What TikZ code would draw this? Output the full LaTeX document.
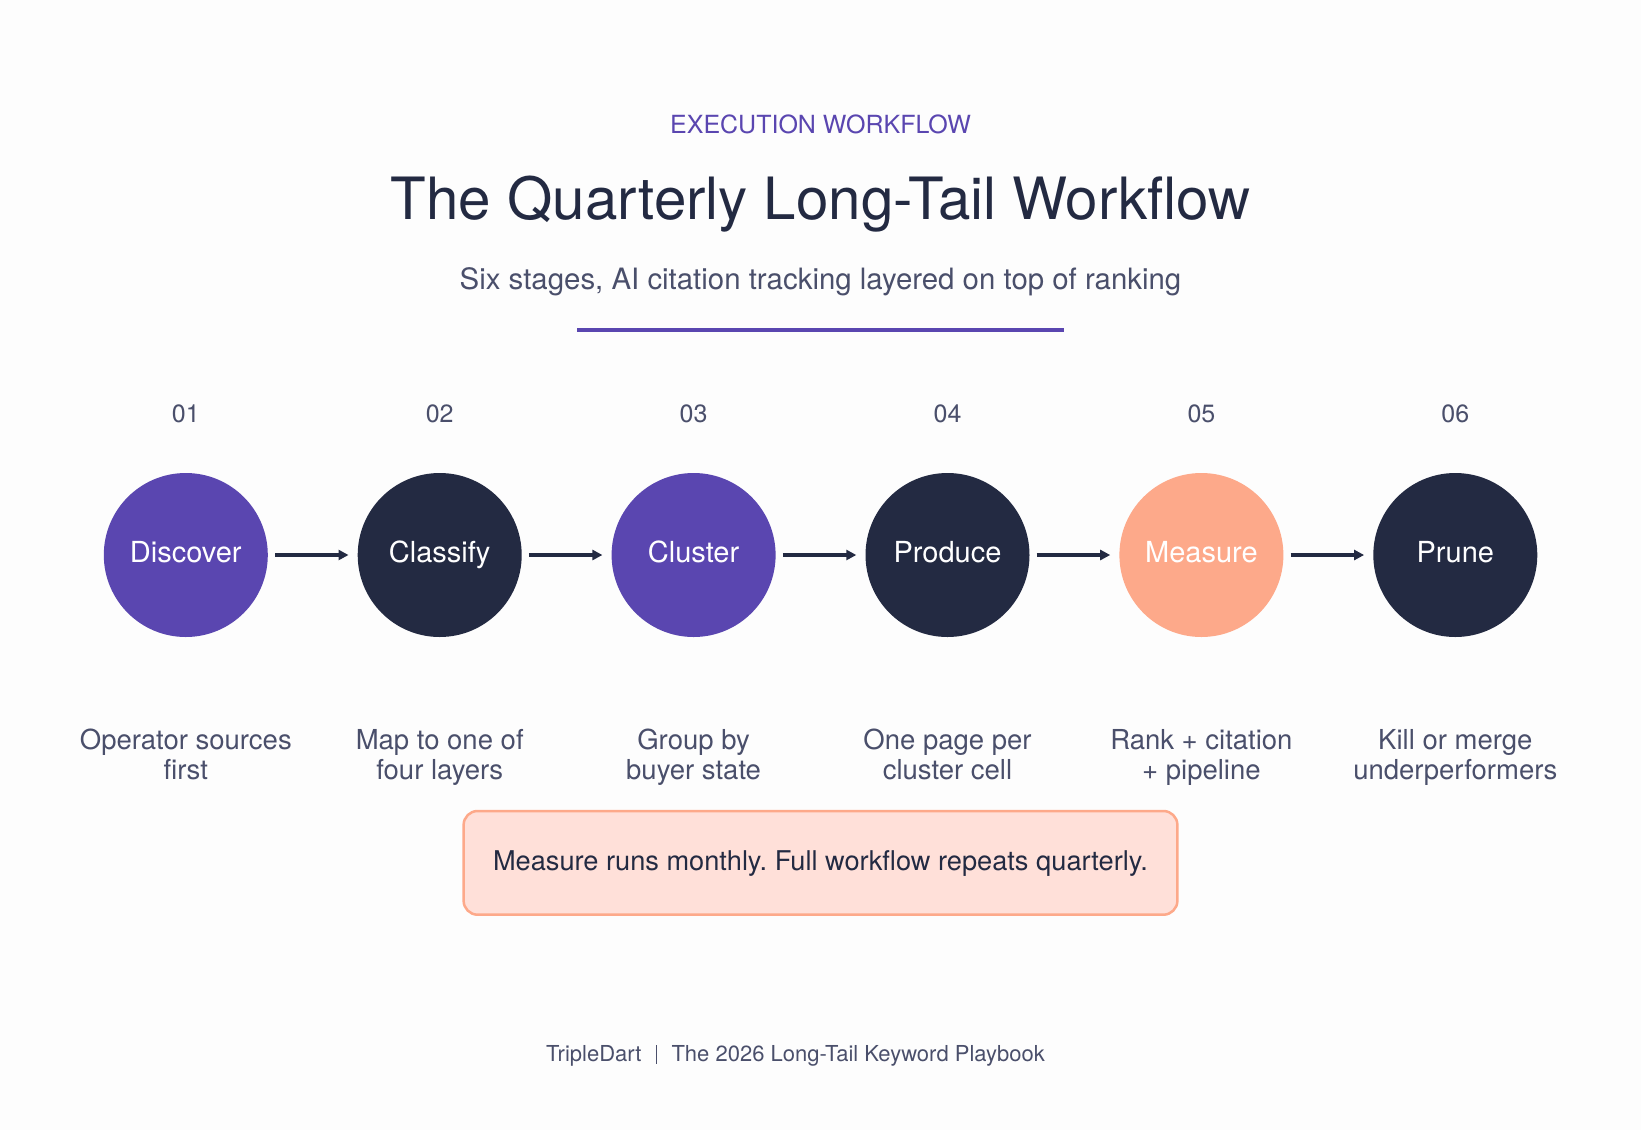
\documentclass[tikz,border=0pt]{standalone}
\usepackage{fontspec}
\setmainfont{TeX Gyre Heros}
\usetikzlibrary{arrows.meta}
\frenchspacing
\definecolor{purp}{HTML}{5A46B0}
\definecolor{navy}{HTML}{232A42}
\definecolor{salmon}{HTML}{FDA98A}
\definecolor{pinkfill}{HTML}{FFE0D9}
\definecolor{greytxt}{HTML}{4A4F6B}
\definecolor{bgc}{HTML}{FDFDFD}
\tikzset{
  stage/.style={circle, minimum size=164pt, inner sep=0pt, text=white, text height=15pt, text depth=0pt, font=\fontsize{29}{32}\selectfont},
  num/.style={anchor=base, text=greytxt, font=\fontsize{25}{30}\selectfont},
  desc/.style={anchor=base, align=center, text=greytxt, font=\fontsize{27.5}{30}\selectfont},
  flow/.style={line width=3.5pt, draw=navy, -{Triangle[length=10pt,width=10pt]}, shorten <=7pt, shorten >=9pt},
}
\begin{document}
\begin{tikzpicture}[x=1pt,y=-1pt]
\fill[bgc] (0,0) rectangle (1641,1130);
\useasboundingbox (0,0) rectangle (1641,1130);

\node[anchor=base, text=purp, font=\fontsize{25}{30}\selectfont] (kicker) at (820.5,133) {EXECUTION WORKFLOW};
\node[anchor=base, text=navy, font=\fontsize{58.3}{64}\selectfont] (title) at (820.5,219) {The Quarterly Long-Tail Workflow};
\node[anchor=base, text=greytxt, font=\fontsize{29.4}{32}\selectfont] (sub) at (820.5,289) {Six stages, AI citation tracking layered on top of ranking};
\coordinate (rl) at (577,330);
\coordinate (rr) at (1064,330);
\draw[purp, line width=4pt] (rl) -- (rr);

\node[stage, fill=purp]   (c1) at (185.8,555) {Discover};
\node[stage, fill=navy]   (c2) at (439.7,555) {Classify};
\node[stage, fill=purp]   (c3) at (693.6,555) {Cluster};
\node[stage, fill=navy]   (c4) at (947.5,555) {Produce};
\node[stage, fill=salmon] (c5) at (1201.4,555) {Measure};
\node[stage, fill=navy]   (c6) at (1455.3,555) {Prune};

\node[num] (n1) at (185.8,422) {01};
\node[num] (n2) at (439.7,422) {02};
\node[num] (n3) at (693.6,422) {03};
\node[num] (n4) at (947.5,422) {04};
\node[num] (n5) at (1201.4,422) {05};
\node[num] (n6) at (1455.3,422) {06};

\draw[flow] (c1) -- (c2);
\draw[flow] (c2) -- (c3);
\draw[flow] (c3) -- (c4);
\draw[flow] (c4) -- (c5);
\draw[flow] (c5) -- (c6);

\node[desc] (d1) at (185.8,779) {Operator sources\\first};
\node[desc] (d2) at (439.7,779) {Map to one of\\four layers};
\node[desc] (d3) at (693.6,779) {Group by\\buyer state};
\node[desc] (d4) at (947.5,779) {One page per\\cluster cell};
\node[desc] (d5) at (1201.4,779) {Rank + citation\\+ pipeline};
\node[desc] (d6) at (1455.3,779) {Kill or merge\\underperformers};

\draw[draw=salmon, fill=pinkfill, line width=2.5pt, rounded corners=14pt] (463.6,811) rectangle (1177.4,914.7);
\node[anchor=base, text=navy, font=\fontsize{27.2}{30}\selectfont] (note) at (820.5,870) {Measure runs monthly. Full workflow repeats quarterly.};

\node[anchor=base east, text=greytxt, font=\fontsize{22}{26}\selectfont] (brand) at (645,1061) {TripleDart};
\coordinate (s1) at (656.7,1045);
\coordinate (s2) at (656.7,1064);
\draw[greytxt, line width=1.2pt] (s1) -- (s2);
\node[anchor=base west, text=greytxt, font=\fontsize{22}{26}\selectfont] (book) at (668,1061) {The 2026 Long-Tail Keyword Playbook};
\end{tikzpicture}
\end{document}
